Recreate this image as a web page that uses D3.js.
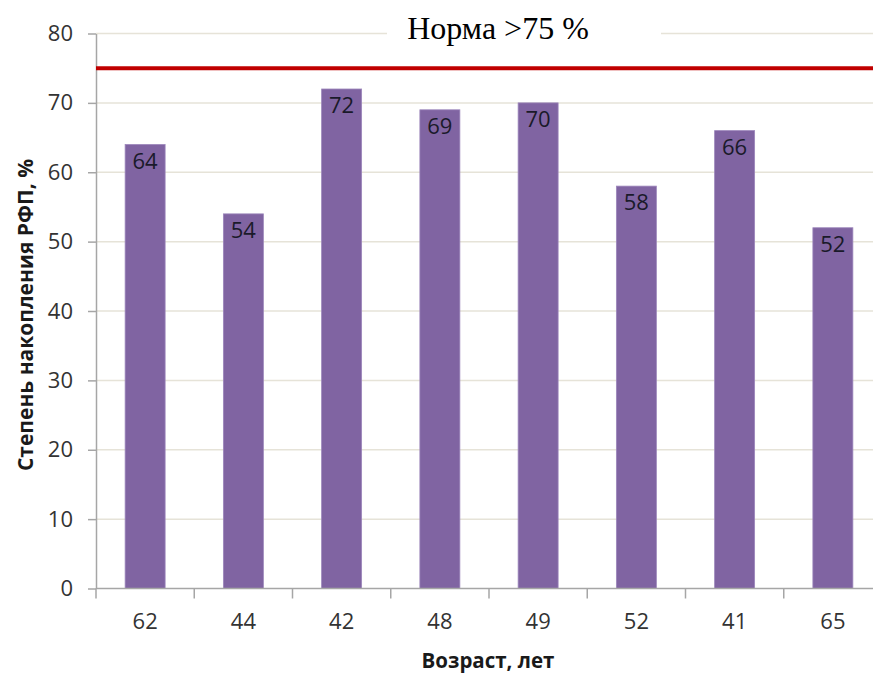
<!DOCTYPE html>
<html>
<head>
<meta charset="utf-8">
<script src="https://cdn.jsdelivr.net/npm/d3@7"></script>
<style>
  html, body { margin: 0; padding: 0; background: #ffffff; overflow: hidden; }
  svg { display: block; }
</style>
</head>
<body>
<svg id="chart" width="873" height="675"></svg>
<script>
// ---- data ----
const categories = ["62", "44", "42", "48", "49", "52", "41", "65"];
const values = [64, 54, 72, 69, 70, 58, 66, 52];
const yTicks = [0, 10, 20, 30, 40, 50, 60, 70, 80];
const normValue = 75;
const titleText = "Норма >75 %";
const yTitle = "Степень накопления РФП, %";
const xTitle = "Возраст, лет";

// ---- layout ----
const plotLeft = 96, plotRight = 882, plotTop = 33.5, plotBottom = 588.5;
const svg = d3.select("#chart");

const x = d3.scaleBand().domain(categories).range([plotLeft, plotRight])
  .paddingInner(0.593).paddingOuter(0.2965);
const y = d3.scaleLinear().domain([0, 80]).range([plotBottom, plotTop]);

const sansFont = "'Open Sans', 'DejaVu Sans', sans-serif";

// gridlines
svg.append("g").selectAll("line").data(yTicks.filter(d => d > 0)).join("line")
  .attr("x1", plotLeft).attr("x2", plotRight)
  .attr("y1", d => y(d)).attr("y2", d => y(d))
  .attr("stroke", "#e6e3d8").attr("stroke-width", 1.5);

// y axis
const yAxis = d3.axisLeft(y).tickValues(yTicks).tickSize(8).tickPadding(15).tickSizeOuter(0);
const gy = svg.append("g").attr("transform", `translate(${plotLeft},0)`).call(yAxis);
gy.select(".domain").attr("stroke", "#a6a6a6").attr("stroke-width", 1.5);
gy.selectAll(".tick line").attr("stroke", "#a6a6a6").attr("stroke-width", 1.5);
gy.selectAll(".tick text").attr("font-family", sansFont).attr("font-size", 22)
  .attr("fill", "#333333");

// bars
svg.append("g").selectAll("rect").data(values).join("rect")
  .attr("x", (d, i) => x(categories[i]))
  .attr("y", d => y(d))
  .attr("width", x.bandwidth())
  .attr("height", d => y(0) - y(d))
  .attr("fill", "#8064a2")
  .attr("stroke", "#9c86bb").attr("stroke-width", 0.8);

// data labels
svg.append("g").selectAll("text").data(values).join("text")
  .attr("x", (d, i) => x(categories[i]) + x.bandwidth() / 2)
  .attr("y", d => y(d) + 24)
  .attr("text-anchor", "middle")
  .attr("font-family", sansFont).attr("font-size", 22)
  .attr("fill", "#1a1a2a")
  .text(d => d);

// x axis
const xAxis = d3.axisBottom(x).tickSize(0).tickPadding(0);
const gx = svg.append("g").attr("transform", `translate(0,${plotBottom})`).call(xAxis);
gx.select(".domain").remove();
gx.selectAll(".tick text").attr("font-family", sansFont).attr("font-size", 22)
  .attr("fill", "#333333").attr("dy", null).attr("y", 40.5);
// category boundary ticks
const bounds = categories.map(c => x(c) - x.step() * x.paddingInner() / 2);
bounds.push(plotRight);
svg.append("line").attr("x1", plotLeft).attr("x2", plotRight).attr("y1", plotBottom).attr("y2", plotBottom)
  .attr("stroke", "#a6a6a6").attr("stroke-width", 1.5);
svg.append("g").selectAll("line").data(bounds).join("line")
  .attr("x1", d => d).attr("x2", d => d)
  .attr("y1", plotBottom).attr("y2", plotBottom + 10)
  .attr("stroke", "#a6a6a6").attr("stroke-width", 1.5);

// norm line
svg.append("line")
  .attr("x1", plotLeft).attr("x2", plotRight)
  .attr("y1", y(normValue)).attr("y2", y(normValue))
  .attr("stroke", "#c00000").attr("stroke-width", 4);

// title with white background
svg.append("rect").attr("x", 387).attr("y", 8).attr("width", 274).attr("height", 40).attr("fill", "#ffffff");
svg.append("text")
  .attr("x", 498).attr("y", 39)
  .attr("text-anchor", "middle")
  .attr("font-family", "'Liberation Serif', 'Times New Roman', serif")
  .attr("font-size", 32).attr("fill", "#000000")
  .text(titleText);

// axis titles
svg.append("text")
  .attr("transform", `translate(33,${315}) rotate(-90)`)
  .attr("text-anchor", "middle")
  .attr("font-family", sansFont).attr("font-weight", "bold").attr("font-size", 21)
  .attr("fill", "#1a1a1a")
  .text(yTitle);

svg.append("text")
  .attr("x", 488).attr("y", 668)
  .attr("text-anchor", "middle")
  .attr("font-family", sansFont).attr("font-weight", "bold").attr("font-size", 20.5)
  .attr("fill", "#1a1a1a")
  .text(xTitle);
</script>
</body>
</html>
